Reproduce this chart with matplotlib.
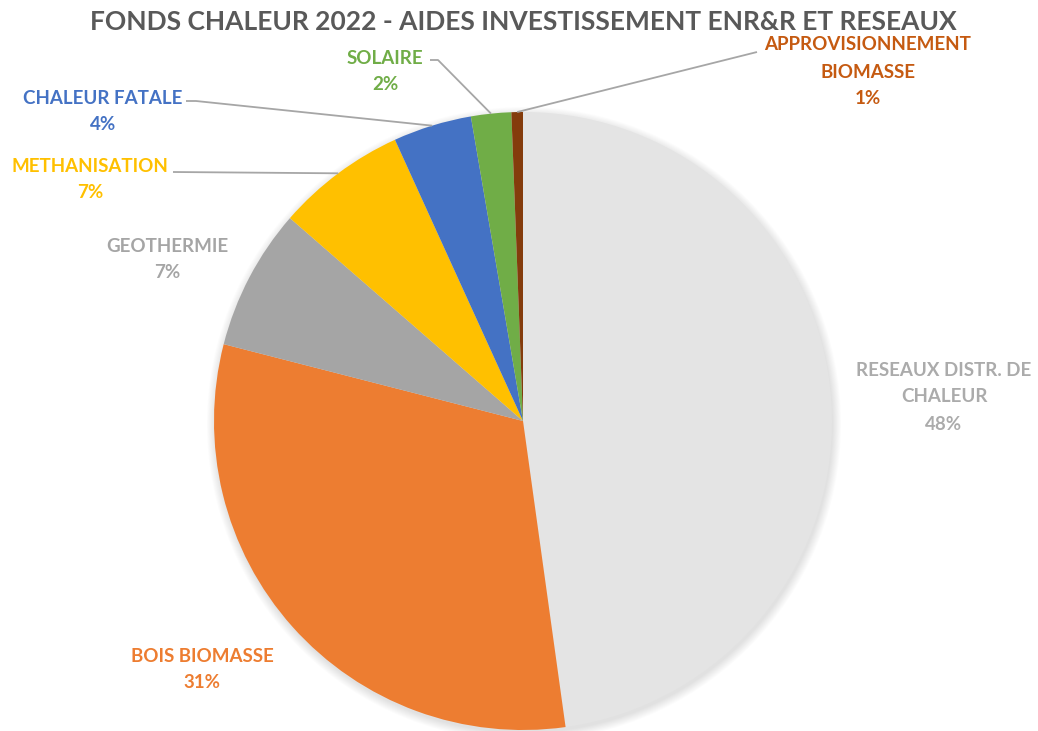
import numpy as np
import matplotlib
matplotlib.use("Agg")
import matplotlib.pyplot as plt
from matplotlib.patches import Circle

# ---- data ----
categories = ["RESEAUX DISTR. DE\nCHALEUR", "BOIS BIOMASSE", "GEOTHERMIE", "METHANISATION",
              "CHALEUR FATALE", "SOLAIRE", "APPROVISIONNEMENT\nBIOMASSE"]
values = [47.8, 31.2, 7.4, 6.8, 4.1, 2.1, 0.6]
slice_colors = ["#E4E4E4", "#ED7D31", "#A5A5A5", "#FFC000", "#4472C4", "#70AD47", "#843C0C"]
label_colors = ["#ABABAB", "#ED7D31", "#A5A5A5", "#FFC000", "#4472C4", "#70AD47", "#C55A11"]
title = "FONDS CHALEUR 2022 - AIDES INVESTISSEMENT ENR&R ET RESEAUX"

W, H = 1038, 731
fig = plt.figure(figsize=(W / 100, H / 100), dpi=100)
ax = fig.add_axes([0, 0, 1, 1])

FONT = ["Lato", "DejaVu Sans"]

cx, cy, R = 523, H - 421, 309

# soft shadow
for i in range(10):
    ax.add_patch(Circle((cx + 1, cy - 3), R + i * 0.9, color="black",
                        alpha=0.012, lw=0, zorder=0))

wedges, _ = ax.pie(values, colors=slice_colors, startangle=90, counterclock=False,
                   center=(cx, cy), radius=R, wedgeprops=dict(linewidth=0, zorder=2),
                   frame=True)
ax.set_xlim(0, W)
ax.set_ylim(0, H)
ax.axis("off")

def P(px, py):
    return px, H - py

total = sum(values)
pcts = [f"{round(v / total * 100):d}%" for v in values]

# label layout: (center x, first-line y) in pixels, line endpoints for leader
label_pos = [(944, 370), (202, 656), (167, 246), (90, 166), (103, 98), (385, 58), (868, 45)]
leader_start = [None, None, None, (173, 172), (186, 101), (430, 60), (757, 52)]
leader_elbow = [None, None, None, None, (196, 101), (438, 60), None]

line_h = 27
for i, (cat, pct) in enumerate(zip(categories, pcts)):
    lines = cat.split("\n") + [pct]
    lx, ly = label_pos[i]
    for k, t in enumerate(lines):
        x, y = P(lx, ly + k * line_h)
        ax.text(x, y, t, ha="center", va="center", fontsize=13.5, fontweight="bold",
                color=label_colors[i], family=FONT, zorder=5)
    if leader_start[i] is not None:
        w = wedges[i]
        mid = np.deg2rad((w.theta1 + w.theta2) / 2)
        ex, ey = cx + R * np.cos(mid), cy + R * np.sin(mid)
        xs = [P(*leader_start[i])[0]]
        ys = [P(*leader_start[i])[1]]
        if leader_elbow[i] is not None:
            xs.append(P(*leader_elbow[i])[0]); ys.append(P(*leader_elbow[i])[1])
        xs.append(ex); ys.append(ey)
        ax.plot(xs, ys, color="#A6A6A6", lw=1.3, zorder=4, solid_capstyle="butt")

tx, ty = P(523, 22)
ax.text(tx, ty, title, ha="center", va="center", fontsize=19, fontweight="bold",
        color="#595959", family=FONT, zorder=5)

fig.savefig("out.png", dpi=100)
